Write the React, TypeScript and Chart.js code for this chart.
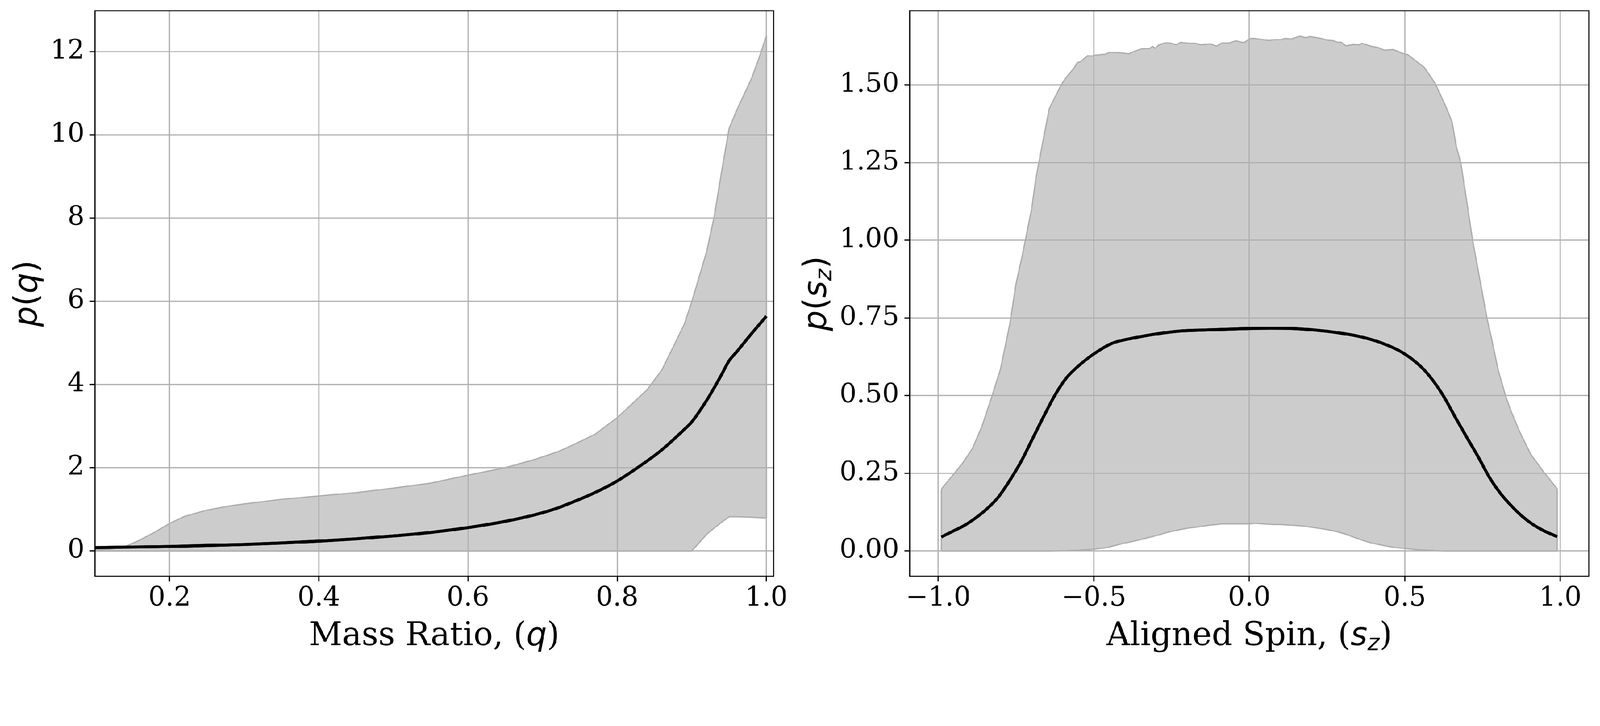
import { useEffect, useRef } from "react";
import { Chart, registerables } from "chart.js";

Chart.register(...registerables);

// ---------- mass ratio panel ----------
const qGrid = [0.1, 0.12, 0.14, 0.16, 0.18, 0.2, 0.22, 0.25, 0.28, 0.3, 0.35, 0.4, 0.45, 0.5, 0.55, 0.6, 0.65, 0.69, 0.72, 0.74, 0.77, 0.8, 0.84, 0.86, 0.89, 0.9, 0.92, 0.93, 0.94, 0.95, 0.96, 0.98, 0.99, 1.0];
const qUpper = [0.03, 0.04, 0.1, 0.26, 0.45, 0.66, 0.83, 0.98, 1.08, 1.13, 1.24, 1.32, 1.4, 1.51, 1.63, 1.82, 2.0, 2.2, 2.38, 2.54, 2.8, 3.2, 3.87, 4.35, 5.45, 5.99, 7.2, 8.03, 9.12, 10.15, 10.58, 11.35, 11.84, 12.38];
const qLower = [0, 0, 0, 0, 0, 0, 0, 0, 0, 0, 0, 0, 0, 0, 0, 0, 0, 0, 0, 0, 0, 0, 0, 0, 0, 0, 0.4, 0.55, 0.69, 0.82, 0.82, 0.81, 0.8, 0.79];
const qMedian = [0.08, 0.085, 0.09, 0.095, 0.1, 0.105, 0.115, 0.13, 0.145, 0.155, 0.19, 0.235, 0.29, 0.36, 0.445, 0.56, 0.71, 0.87, 1.03, 1.17, 1.4, 1.68, 2.16, 2.43, 2.92, 3.1, 3.62, 3.92, 4.24, 4.57, 4.78, 5.22, 5.43, 5.64];
const qTicksX = [0.2, 0.4, 0.6, 0.8, 1.0];
const qTicksY = [0, 2, 4, 6, 8, 10, 12];

// ---------- aligned spin panel ----------
const szGrid = [-0.99, -0.95, -0.92, -0.89, -0.86, -0.83, -0.8, -0.77, -0.75, -0.73, -0.7, -0.686, -0.667, -0.643, -0.605, -0.591, -0.563, -0.553, -0.542, -0.52, -0.506, -0.496, -0.463, -0.449, -0.411, -0.387, -0.373, -0.344, -0.321, -0.311, -0.302, -0.292, -0.273, -0.254, -0.235, -0.221, -0.193, -0.174, -0.155, -0.126, -0.105, -0.088, -0.065, -0.043, -0.017, 0.002, 0.016, 0.045, 0.064, 0.078, 0.102, 0.116, 0.135, 0.163, 0.182, 0.196, 0.23, 0.253, 0.268, 0.282, 0.296, 0.31, 0.334, 0.353, 0.362, 0.391, 0.415, 0.434, 0.462, 0.481, 0.5, 0.509, 0.528, 0.562, 0.585, 0.6, 0.633, 0.652, 0.666, 0.68, 0.7, 0.718, 0.744, 0.765, 0.779, 0.8, 0.825, 0.842, 0.87, 0.905, 0.947, 0.99];
const szUpper = [0.199, 0.248, 0.285, 0.33, 0.4, 0.49, 0.585, 0.73, 0.86, 0.95, 1.1, 1.2, 1.3, 1.424, 1.5, 1.521, 1.555, 1.572, 1.575, 1.594, 1.593, 1.596, 1.599, 1.605, 1.603, 1.6, 1.607, 1.617, 1.617, 1.624, 1.618, 1.628, 1.635, 1.635, 1.629, 1.637, 1.634, 1.634, 1.629, 1.632, 1.625, 1.635, 1.635, 1.642, 1.636, 1.649, 1.65, 1.646, 1.643, 1.646, 1.646, 1.65, 1.648, 1.657, 1.652, 1.656, 1.65, 1.644, 1.643, 1.638, 1.637, 1.626, 1.63, 1.629, 1.634, 1.625, 1.62, 1.612, 1.614, 1.607, 1.599, 1.598, 1.583, 1.557, 1.524, 1.5, 1.428, 1.381, 1.3, 1.25, 1.12, 1.0, 0.859, 0.745, 0.684, 0.583, 0.496, 0.449, 0.382, 0.311, 0.254, 0.2];
const szLower = [0, 0, 0, 0, 0, 0, 0, 0, 0, 0, 0, 0, 0, 0, 0.001, 0.001, 0.002, 0.002, 0.003, 0.004, 0.005, 0.006, 0.01, 0.013, 0.023, 0.028, 0.031, 0.038, 0.044, 0.046, 0.049, 0.051, 0.057, 0.062, 0.066, 0.069, 0.074, 0.076, 0.079, 0.083, 0.085, 0.087, 0.087, 0.087, 0.087, 0.087, 0.089, 0.087, 0.086, 0.085, 0.085, 0.084, 0.083, 0.081, 0.079, 0.077, 0.072, 0.068, 0.065, 0.062, 0.058, 0.054, 0.045, 0.038, 0.035, 0.026, 0.021, 0.017, 0.012, 0.01, 0.008, 0.007, 0.005, 0.003, 0.002, 0.001, 0, 0, 0, 0, 0, 0, 0, 0, 0, 0, 0, 0, 0, 0, 0, 0];
const szMeanX = [-0.99, -0.95, -0.916, -0.88, -0.843, -0.807, -0.77, -0.734, -0.697, -0.66, -0.624, -0.588, -0.551, -0.5, -0.442, -0.369, -0.296, -0.223, -0.15, 0, 0.071, 0.141, 0.211, 0.281, 0.351, 0.421, 0.5, 0.562, 0.618, 0.667, 0.702, 0.737, 0.772, 0.807, 0.842, 0.877, 0.912, 0.947, 0.99];
const szMeanY = [0.045, 0.065, 0.082, 0.106, 0.136, 0.173, 0.227, 0.287, 0.361, 0.435, 0.503, 0.557, 0.594, 0.634, 0.668, 0.686, 0.699, 0.708, 0.711, 0.716, 0.717, 0.716, 0.711, 0.703, 0.691, 0.671, 0.634, 0.583, 0.509, 0.422, 0.361, 0.301, 0.237, 0.186, 0.146, 0.112, 0.085, 0.065, 0.046];
const szTicksX = [-1, -0.5, 0, 0.5, 1];
const szTicksY = [0, 0.25, 0.5, 0.75, 1.0, 1.25, 1.5];

// ---------- styling ----------
const SERIF = '"DejaVu Serif"';
const SANS = '"DejaVu Sans"';
const LABEL = `91px ${SERIF}`;
const MATH = `italic 91px ${SANS}`;
const MATH_UP = `91px ${SANS}`;
const MATH_SUB = `italic 64px ${SANS}`;
const LW = 3.3;
const PAGE_W = 4480;
const PAGE_H = 1859;

type Run = { text: string; font: string; dy?: number };

function drawRuns(ctx: CanvasRenderingContext2D, runs: Run[], x: number, y: number, angle: number) {
  ctx.save();
  ctx.translate(x, y);
  ctx.rotate(angle);
  ctx.fillStyle = "#000";
  ctx.textBaseline = "alphabetic";
  ctx.textAlign = "left";
  let total = 0;
  for (const r of runs) {
    ctx.font = r.font;
    total += ctx.measureText(r.text).width;
  }
  let cx = -total / 2;
  for (const r of runs) {
    ctx.font = r.font;
    ctx.fillText(r.text, cx, r.dy ?? 0);
    cx += ctx.measureText(r.text).width;
  }
  ctx.restore();
}

// grid sits over the band (like matplotlib), median line and frame over the grid
function decorPlugin(xTitle: Run[], yTitle: Run[], yTitleX: number) {
  return {
    id: "decor",
    afterDraw(chart: Chart) {
      const { ctx, chartArea: a } = chart;
      ctx.save();
      ctx.beginPath();
      ctx.rect(a.left, a.top, a.right - a.left, a.bottom - a.top);
      ctx.clip();
      (chart.getDatasetMeta(0).controller as any).draw();
      ctx.restore();
      ctx.save();
      ctx.strokeStyle = "#000";
      ctx.lineWidth = LW;
      ctx.strokeRect(a.left, a.top, a.right - a.left, a.bottom - a.top);
      ctx.restore();
      drawRuns(ctx, xTitle, (a.left + a.right) / 2, a.bottom + 193, 0);
      drawRuns(ctx, yTitle, yTitleX, (a.top + a.bottom) / 2, -Math.PI / 2);
    },
  };
}

type PanelProps = {
  grid: number[];
  upper: number[];
  lower: number[];
  meanX: number[];
  meanY: number[];
  xRange: [number, number];
  yRange: [number, number];
  xTicks: number[];
  yTicks: number[];
  fmtX: (v: number) => string;
  fmtY: (v: number) => string;
  yAxisWidth: number;
  padRight: number;
  xTitle: Run[];
  yTitle: Run[];
  yTitleX: number;
  left: number;
};

function BandPanel(p: PanelProps) {
  const canvasRef = useRef<HTMLCanvasElement | null>(null);
  useEffect(() => {
    if (!canvasRef.current) return;
    const pts = (xs: number[], ys: number[]) => xs.map((x, i) => ({ x, y: ys[i] }));
    const n = p.grid.length - 1;
    const edges = [
      { x: p.grid[0], y: p.lower[0] },
      { x: p.grid[0], y: p.upper[0] },
      { x: p.grid[0], y: null },
      { x: p.grid[n], y: p.upper[n] },
      { x: p.grid[n], y: p.lower[n] },
    ];
    const gridOpts = { color: "#b0b0b0", lineWidth: LW, tickColor: "#000", tickWidth: LW, tickLength: 14.6, z: 1 };
    const tickFont = { family: "DejaVu Serif", size: 75, lineHeight: 1 };
    const chart = new Chart(canvasRef.current, {
      type: "line",
      data: {
        datasets: [
          {
            data: pts(p.meanX, p.meanY),
            borderColor: "#000",
            borderWidth: 8.3,
            pointRadius: 0,
            cubicInterpolationMode: "monotone",
            fill: false,
          },
          {
            data: pts(p.grid, p.upper),
            borderColor: "#adadad",
            borderWidth: 3.5,
            pointRadius: 0,
            tension: 0,
            backgroundColor: "#cccccc",
            fill: "+1",
          },
          {
            data: pts(p.grid, p.lower),
            borderColor: "#adadad",
            borderWidth: 3.5,
            pointRadius: 0,
            tension: 0,
            fill: false,
          },
          {
            data: edges as any,
            borderColor: "#adadad",
            borderWidth: 3.5,
            pointRadius: 0,
            spanGaps: false,
            fill: false,
          },
        ],
      },
      options: {
        responsive: false,
        animation: false,
        devicePixelRatio: 1,
        events: [],
        layout: { padding: { top: 30, right: p.padRight, bottom: 0, left: 0 } },
        plugins: {
          legend: { display: false },
          tooltip: { enabled: false },
          filler: { drawTime: "beforeDatasetsDraw" },
        },
        scales: {
          x: {
            type: "linear",
            min: p.xRange[0],
            max: p.xRange[1],
            afterBuildTicks: (s: any) => {
              s.ticks = p.xTicks.map((value) => ({ value }));
            },
            afterFit: (s: any) => {
              s.height = 245;
              s.paddingLeft = 0;
              s.paddingRight = 0;
            },
            ticks: {
              color: "#000",
              font: tickFont,
              padding: 10,
              autoSkip: false,
              maxRotation: 0,
              callback: (v: any) => p.fmtX(Number(v)),
            },
            grid: gridOpts,
            border: { display: false },
          },
          y: {
            type: "linear",
            min: p.yRange[0],
            max: p.yRange[1],
            afterBuildTicks: (s: any) => {
              s.ticks = p.yTicks.map((value) => ({ value }));
            },
            afterFit: (s: any) => {
              s.width = p.yAxisWidth;
              s.paddingTop = 0;
              s.paddingBottom = 0;
            },
            ticks: {
              color: "#000",
              font: tickFont,
              padding: 14.6,
              autoSkip: false,
              callback: (v: any) => p.fmtY(Number(v)),
            },
            grid: gridOpts,
            border: { display: false },
          },
        },
      },
      plugins: [decorPlugin(p.xTitle, p.yTitle, p.yTitleX)],
    } as any);
    return () => chart.destroy();
  }, []);
  return (
    <canvas
      ref={canvasRef}
      width={2240}
      height={1859}
      style={{ position: "absolute", left: p.left, top: 0, width: 2240, height: 1859 }}
    />
  );
}

const minus = (s: string) => s.replace("-", "\u2212");

export default function App() {
  // keep the whole figure inside the viewport if it is narrower than the page size
  const fit = Math.min(1, window.innerWidth / PAGE_W, window.innerHeight / PAGE_H);
  return (
    <div
      style={{
        position: "absolute",
        left: 0,
        top: 0,
        width: PAGE_W,
        height: PAGE_H,
        background: "#fff",
        transform: fit < 1 ? `scale(${fit})` : undefined,
        transformOrigin: "0 0",
      }}
    >
      <BandPanel
        grid={qGrid}
        upper={qUpper}
        lower={qLower}
        meanX={qGrid}
        meanY={qMedian}
        xRange={[0.1, 1.0096]}
        yRange={[-0.61, 12.98]}
        xTicks={qTicksX}
        yTicks={qTicksY}
        fmtX={(v) => v.toFixed(1)}
        fmtY={(v) => String(Math.round(v))}
        yAxisWidth={266}
        padRight={74}
        xTitle={[
          { text: "Mass Ratio, (", font: LABEL },
          { text: "q", font: MATH },
          { text: ")", font: LABEL },
        ]}
        yTitle={[
          { text: "p", font: MATH },
          { text: "(", font: MATH_UP },
          { text: "q", font: MATH },
          { text: ")", font: MATH_UP },
        ]}
        yTitleX={103}
        left={0}
      />
      <BandPanel
        grid={szGrid}
        upper={szUpper}
        lower={szLower}
        meanX={szMeanX}
        meanY={szMeanY}
        xRange={[-1.092, 1.092]}
        yRange={[-0.0816, 1.739]}
        xTicks={szTicksX}
        yTicks={szTicksY}
        fmtX={(v) => minus(v.toFixed(1))}
        fmtY={(v) => v.toFixed(2)}
        yAxisWidth={307}
        padRight={31}
        xTitle={[
          { text: "Aligned Spin, (", font: LABEL },
          { text: "s", font: MATH },
          { text: "z", font: MATH_SUB, dy: 14 },
          { text: ")", font: LABEL },
        ]}
        yTitle={[
          { text: "p", font: MATH },
          { text: "(", font: MATH_UP },
          { text: "s", font: MATH },
          { text: "z", font: MATH_SUB, dy: 14 },
          { text: ")", font: MATH_UP },
        ]}
        yTitleX={73}
        left={2240}
      />
    </div>
  );
}
